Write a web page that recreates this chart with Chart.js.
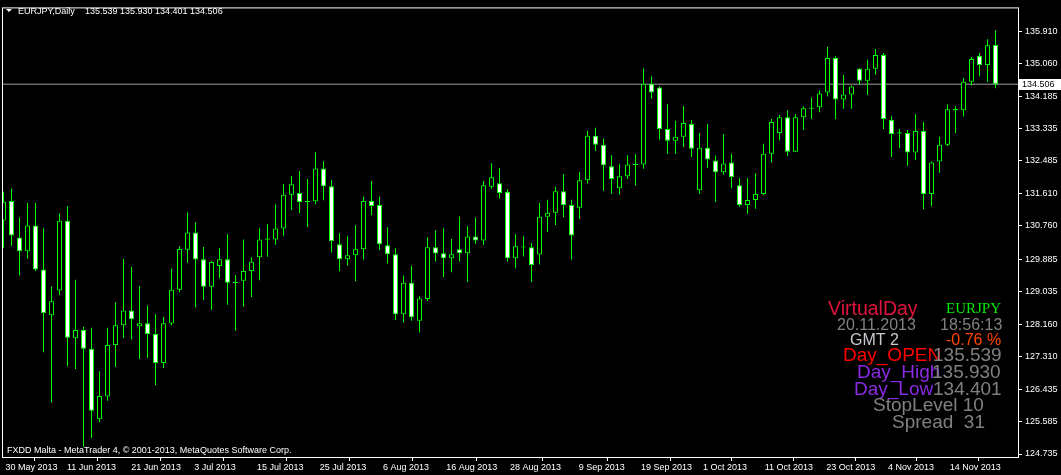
<!DOCTYPE html>
<html>
<head>
<meta charset="utf-8">
<script src="https://cdn.jsdelivr.net/npm/chart.js@4.4.0/dist/chart.umd.min.js"></script>
<style>
  html, body { margin: 0; padding: 0; background: #000; }
</style>
</head>
<body>
<canvas id="chart" width="1061" height="475"></canvas>
<script>
// EURJPY daily bars, 30 May 2013 .. 20 Nov 2013
const opens = [
  130.908, 131.421, 130.457, 130.093, 130.770, 129.613, 128.400, 129.053, 130.900, 127.791,
  128.009, 127.514, 125.654, 126.253, 127.618, 128.139, 128.530, 128.113, 128.191, 127.905,
  127.139, 128.181, 129.076, 130.135, 130.588, 129.884, 129.154, 129.702, 129.884, 129.285,
  129.311, 129.572, 129.936, 130.396, 130.406, 130.692, 131.585, 131.629, 131.418, 131.411,
  132.281, 131.812, 130.275, 129.884, 129.988, 130.145, 131.421, 131.317, 130.249, 130.014,
  128.426, 129.259, 128.259, 128.832, 130.197, 130.041, 129.910, 130.145, 130.041, 130.483,
  130.379, 131.794, 131.890, 131.655, 129.910, 130.220, 130.197, 130.004, 131.005, 131.109,
  131.681, 131.317, 131.239, 131.969, 133.141, 132.906, 132.341, 131.759, 132.072, 132.370,
  132.385, 134.521, 134.417, 133.323, 133.010, 133.115, 133.453, 131.707, 132.828, 132.489,
  132.177, 132.437, 131.838, 131.317, 131.447, 131.603, 132.671, 133.219, 133.636, 132.723,
  133.636, 133.885, 133.896, 134.287, 135.199, 134.104, 134.235, 134.912, 134.599, 134.912,
  135.277, 133.558, 133.234, 133.219, 132.701, 133.271, 131.603, 132.463, 132.906, 133.851,
  133.818, 134.573, 135.251, 135.016, 135.539
];
const highs = [
  131.664, 131.742, 130.986, 131.377, 131.377, 130.700, 129.163, 131.090, 131.291, 129.337,
  128.095, 128.069, 126.922, 128.069, 128.746, 129.892, 129.684, 129.180, 128.660, 128.426,
  128.355, 129.632, 130.223, 131.117, 130.856, 130.205, 129.832, 130.171, 130.543, 129.467,
  130.406, 129.936, 130.700, 130.804, 131.325, 131.872, 132.080, 132.210, 132.002, 132.706,
  132.471, 131.976, 130.569, 130.491, 130.778, 131.533, 131.950, 131.533, 130.726, 130.171,
  129.449, 129.710, 128.902, 130.465, 130.648, 130.700, 130.413, 131.012, 130.752, 130.986,
  131.950, 132.419, 132.289, 131.733, 130.543, 130.491, 130.309, 131.377, 131.455, 131.794,
  132.132, 131.455, 132.185, 133.279, 133.357, 133.070, 132.627, 132.393, 132.627, 132.653,
  134.920, 134.711, 134.443, 133.974, 133.539, 133.930, 133.558, 133.219, 133.453, 132.619,
  133.193, 132.671, 132.019, 132.019, 132.150, 132.932, 133.584, 133.695, 133.818, 133.714,
  133.922, 134.157, 134.339, 135.493, 135.251, 134.756, 134.469, 134.925, 135.154, 135.441,
  135.329, 133.662, 133.323, 133.297, 133.714, 133.505, 132.463, 133.115, 133.974, 133.922,
  134.678, 135.225, 135.329, 135.694, 135.930
];
const lows = [
  130.179, 130.239, 129.457, 129.892, 129.571, 127.425, 126.097, 128.936, 127.053, 126.983,
  124.924, 125.159, 125.576, 126.141, 127.035, 127.791, 127.764, 127.243, 127.269, 126.549,
  127.009, 128.139, 129.006, 129.788, 128.616, 128.806, 128.545, 129.380, 128.676, 127.991,
  128.624, 128.884, 129.328, 129.944, 130.266, 130.499, 131.176, 131.098, 130.734, 131.333,
  131.437, 130.057, 129.562, 129.718, 129.301, 129.875, 131.046, 130.119, 129.770, 128.277,
  128.207, 128.259, 127.947, 128.780, 129.822, 129.406, 129.536, 129.822, 129.275, 130.291,
  130.266, 131.742, 131.489, 129.822, 129.640, 129.953, 129.275, 129.744, 130.604, 130.786,
  130.994, 129.874, 130.942, 131.881, 132.740, 131.689, 131.603, 131.593, 132.002, 131.828,
  132.271, 134.120, 133.044, 132.662, 132.662, 132.844, 132.584, 131.603, 132.297, 131.385,
  132.115, 131.759, 131.265, 131.083, 131.213, 131.577, 132.437, 133.027, 132.610, 132.715,
  133.297, 133.584, 133.766, 134.183, 133.578, 133.860, 133.860, 134.495, 134.224, 134.756,
  133.323, 132.584, 132.819, 132.349, 132.506, 131.203, 131.281, 132.167, 132.871, 133.209,
  133.651, 134.469, 134.719, 134.563, 134.401
];
const closes = [
  131.403, 130.510, 130.093, 130.770, 129.613, 128.452, 128.772, 130.900, 127.808, 128.009,
  127.514, 125.880, 126.271, 127.618, 128.139, 128.530, 128.295, 128.191, 127.905, 127.139,
  128.191, 129.076, 130.153, 130.588, 129.874, 129.154, 129.806, 129.884, 129.259, 129.255,
  129.572, 129.814, 130.406, 130.426, 130.692, 131.585, 131.864, 131.395, 131.388, 132.281,
  131.812, 130.354, 129.884, 129.988, 130.145, 131.421, 131.291, 130.275, 130.014, 128.426,
  129.259, 128.348, 128.841, 130.197, 130.031, 129.910, 130.014, 130.041, 130.483, 130.379,
  131.838, 132.050, 131.629, 129.910, 130.223, 130.190, 129.728, 131.005, 131.109, 131.681,
  131.317, 130.510, 131.969, 133.141, 132.906, 132.367, 132.002, 132.072, 132.385, 132.400,
  134.521, 134.287, 133.323, 133.010, 133.115, 133.479, 132.802, 132.828, 132.515, 132.177,
  132.411, 132.046, 131.317, 131.447, 131.603, 132.671, 133.505, 133.636, 132.723, 133.636,
  133.870, 133.855, 134.261, 135.199, 134.104, 134.235, 134.443, 134.599, 134.912, 135.277,
  133.584, 133.193, 133.204, 132.701, 133.271, 131.603, 132.437, 132.906, 133.844, 133.821,
  134.573, 135.173, 135.016, 135.537, 134.506
];

// price scale labels as printed on the right axis
const priceTicks = [135.910, 135.060, 134.185, 133.335, 132.485, 131.610, 130.760,
  129.885, 129.035, 128.160, 127.310, 126.435, 125.585, 124.735];

// date labels of the time axis and the bar position they sit at
const dateLabels = ['30 May 2013', '11 Jun 2013', '21 Jun 2013', '3 Jul 2013', '15 Jul 2013',
  '25 Jul 2013', '6 Aug 2013', '16 Aug 2013', '28 Aug 2013', '9 Sep 2013', '19 Sep 2013',
  '1 Oct 2013', '11 Oct 2013', '23 Oct 2013', '4 Nov 2013', '14 Nov 2013'];
const dateTickAt = [0, 7.69, 15.73, 23.6, 31.44, 39.28, 47.19, 55.1, 63.06, 71.65,
  79.44, 87.19, 94.9, 102.6, 110.3, 118.03];

const last = closes.length - 1;
const green = '#00ff00';
const tickFont = { family: 'Liberation Sans', size: 9 };

const bodies = opens.map((o, i) => ({ x: i, y: [o, closes[i]] }));
const wicks = lows.map((l, i) => ({ x: i, y: [l, highs[i]] }));
const bodyFill = opens.map((o, i) => closes[i] < o ? '#ffffff' : '#000000');

const mt4Frame = {
  id: 'mt4Frame',
  beforeDraw(chart) {
    const c = chart.ctx;
    c.save();
    c.fillStyle = '#000';
    c.fillRect(0, 0, chart.width, chart.height);
    c.restore();
  },
  afterDraw(chart) {
    const c = chart.ctx;
    const a = chart.chartArea;
    const ys = chart.scales.y;
    c.save();
    // chart border
    c.strokeStyle = '#fff';
    c.lineWidth = 1;
    c.strokeRect(a.left + 0.5, a.top - 0.5, a.right - a.left, a.bottom - a.top + 1);

    // bid label on the price scale
    const by = Math.round(ys.getPixelForValue(closes[last]));
    c.fillStyle = '#fff';
    c.fillRect(a.right + 1, by - 5, 42, 11);
    c.fillStyle = '#000';
    c.font = '9px "Liberation Sans"';
    c.textBaseline = 'middle';
    c.fillText(closes[last].toFixed(3), a.right + 4, by + 1);

    // header
    c.textBaseline = 'alphabetic';
    c.fillStyle = '#fff';
    c.beginPath();
    c.moveTo(6, 9); c.lineTo(12, 9); c.lineTo(9, 12); c.closePath();
    c.fill();
    c.fillText('EURJPY,Daily', 18, 14);
    c.fillText([opens[last], highs[last], lows[last], closes[last]].map(v => v.toFixed(3)).join(' '), 85, 14);
    c.fillText('FXDD Malta - MetaTrader 4, \u00a9 2001-2013, MetaQuotes Software Corp.', 7, 453);

    // VirtualDay indicator panel
    const big = '19px "Liberation Sans"';
    const mid = '16px "Liberation Sans"';
    const put = (t, col, f, x, y) => { c.font = f; c.fillStyle = col; c.fillText(t, x, y); };
    put('VirtualDay', '#dc143c', '19.5px "Liberation Sans"', 828, 315);
    put('EURJPY', '#00ee00', '15px "Liberation Serif"', 946, 313);
    put('20.11.2013', '#808080', mid, 837, 329.5);
    put('18:56:13', '#808080', mid, 940, 329.5);
    put('GMT 2', '#c8c8d0', mid, 850, 345);
    put('-0.76 %', '#ff4500', mid, 946, 345);
    put('Day_OPEN', '#ff0000', big, 843, 361);
    put(opens[last].toFixed(3), '#808080', big, 933, 361);
    put('Day_High', '#8a2be2', big, 857, 378);
    put(highs[last].toFixed(3), '#808080', big, 932, 378);
    put('Day_Low', '#8a2be2', big, 854, 395);
    put(lows[last].toFixed(3), '#808080', big, 933, 395);
    put('StopLevel 10', '#808080', big, 873, 411);
    put('Spread  31', '#808080', big, 892, 427.5);
    c.restore();
  }
};

new Chart(document.getElementById('chart'), {
  type: 'bar',
  data: {
    datasets: [
      {
        type: 'line',
        data: [{ x: -1, y: closes[last] }, { x: 130, y: closes[last] }],
        borderColor: '#a0a0a0',
        borderWidth: 1,
        pointRadius: 0,
        order: 3
      },
      {
        data: wicks,
        backgroundColor: green,
        borderWidth: 0,
        barThickness: 1,
        grouped: false,
        inflateAmount: 0,
        order: 2
      },
      {
        data: bodies,
        backgroundColor: bodyFill,
        borderColor: green,
        borderWidth: 1,
        borderSkipped: false,
        barThickness: 5,
        grouped: false,
        inflateAmount: 0,
        order: 1
      }
    ]
  },
  options: {
    responsive: false,
    animation: false,
    events: [],
    layout: { padding: { left: 2, top: 2, right: 0, bottom: 0 } },
    plugins: { legend: { display: false }, tooltip: { enabled: false } },
    scales: {
      x: {
        type: 'linear',
        min: -0.1875,
        max: 126.8125,
        offset: false,
        afterFit: s => { s.height = 18; },
        afterBuildTicks: s => { s.ticks = dateTickAt.map(v => ({ value: v })); },
        grid: { drawOnChartArea: false, drawTicks: true, tickLength: 4, color: '#fff' },
        border: { display: false },
        ticks: {
          align: 'start',
          labelOffset: 2,
          autoSkip: false,
          maxRotation: 0,
          padding: 1,
          color: '#fff',
          font: tickFont,
          callback: (v, i) => dateLabels[i]
        }
      },
      y: {
        position: 'right',
        min: 124.656,
        max: 136.509,
        afterFit: s => { s.width = 43; },
        afterBuildTicks: s => { s.ticks = priceTicks.map(v => ({ value: v })); },
        grid: { drawOnChartArea: false, drawTicks: true, tickLength: 4, color: '#fff' },
        border: { display: false },
        ticks: {
          autoSkip: false,
          padding: 3,
          color: '#fff',
          font: tickFont,
          callback: v => v.toFixed(3)
        }
      }
    }
  },
  plugins: [mt4Frame]
});
</script>
</body>
</html>
